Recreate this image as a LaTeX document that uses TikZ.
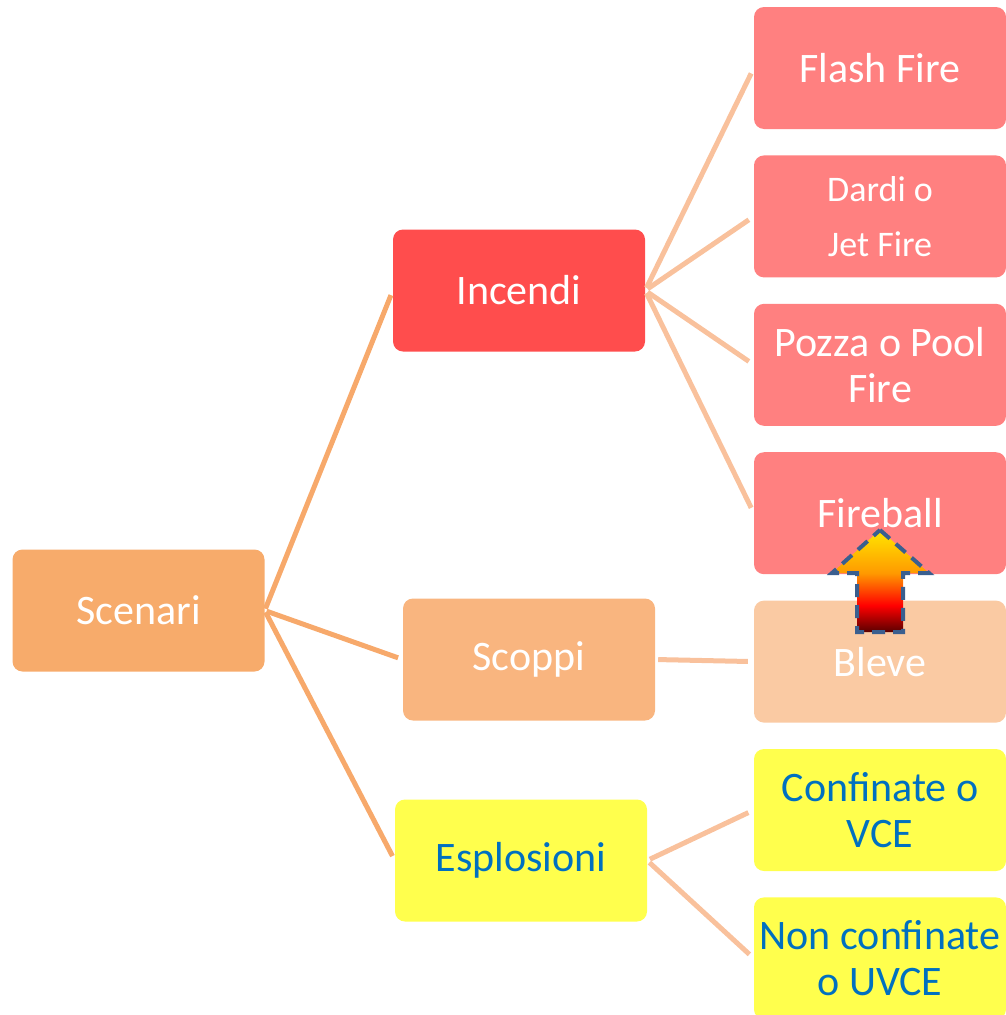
\documentclass[tikz,border=0pt]{standalone}
\usepackage{fontspec}
\setmainfont{Carlito}
\usetikzlibrary{positioning, calc}
\definecolor{root}{HTML}{F7AB6B}
\definecolor{fire}{HTML}{FF4D4D}
\definecolor{blast}{HTML}{F9B57F}
\definecolor{explosion}{HTML}{FFFF4D}
\definecolor{fire_leaf}{HTML}{FF8080}
\definecolor{blast_leaf}{HTML}{FACAA3}
\definecolor{root_link}{HTML}{F7A96B}
\definecolor{leaf_link}{HTML}{F9C19C}
\definecolor{bluetext}{HTML}{0070C0}
\definecolor{dashblue}{HTML}{3A5F8F}
\definecolor{arrowdark}{HTML}{5A0000}
\definecolor{arroworange}{HTML}{FF9A00}
\definecolor{arrowyellow}{HTML}{FFE600}
\pgfdeclareverticalshading{fireup}{100bp}{color(0bp)=(arrowdark); color(25bp)=(arrowdark); color(38bp)=(red); color(54bp)=(arroworange); color(75bp)=(arrowyellow); color(100bp)=(arrowyellow)}

\begin{document}
\begin{tikzpicture}[
    x=1pt, y=-1pt,
    font=\fontsize{42}{46}\selectfont,
    node distance=26pt,
    block/.style={
        rounded corners=10pt,
        align=center,
        minimum width=252pt,
        minimum height=122pt,
        inner sep=4pt,
        text=white
    },
    root/.style={block, fill=root},
    fire/.style={block, fill=fire},
    blast/.style={block, fill=blast},
    explosion/.style={block, fill=explosion, text=bluetext},
    fire_leaf/.style={block, fill=fire_leaf},
    blast_leaf/.style={block, fill=blast_leaf},
    explosion_leaf/.style={block, fill=explosion, text=bluetext},
    link/.style={line width=5pt, shorten <=2pt, shorten >=5pt},
    root_link/.style={link, draw=root_link},
    leaf_link/.style={link, draw=leaf_link, shorten <=3pt, shorten >=6pt}
]
\useasboundingbox (0,0) rectangle (1006,1015);

% Root and branches
\node[root] (Sc) at (138.5,610.5) {Scenari};
\node[fire] (Inc) at (519,290.5) {Incendi};
\node[blast] (Sco) at (529,659.5) {Scoppi};
\node[explosion] (Esp) at (521,860.5) {Esplosioni};

% Leaves
\node[fire_leaf] (FF) at (880,68) {Flash Fire};
\node[fire_leaf, below=of FF, font=\fontsize{36}{55}\selectfont] (JF) {Dardi o\\Jet Fire};
\node[fire_leaf, below=of JF] (PF) {Pozza o Pool\\Fire};
\node[fire_leaf, below=of PF] (FB) {Fireball};
\node[blast_leaf, below=of FB] (Blv) {Bleve};
\node[explosion_leaf, below=of Blv] (VCE) {Confinate o\\VCE};
\node[explosion_leaf, below=of VCE] (UVCE) {Non confinate\\o UVCE};

% Edges
\draw[root_link] (Sc.east) -- (Inc.west);
\draw[root_link] (Sc.east) -- (Sco.west);
\draw[root_link] (Sc.east) -- (Esp.west);

\draw[leaf_link] (Inc.east) -- (FF.west);
\draw[leaf_link] (Inc.east) -- (JF.west);
\draw[leaf_link] (Inc.east) -- (PF.west);
\draw[leaf_link] (Inc.east) -- (FB.west);
\draw[leaf_link] (Sco.east) -- (Blv.west);
\draw[leaf_link] (Esp.east) -- (VCE.west);
\draw[leaf_link] (Esp.east) -- (UVCE.west);

% Up arrow from Bleve to Fireball
\draw[shading=fireup, draw=dashblue, line width=4pt, dash pattern=on 13pt off 8pt, line join=miter]
    (880,530) -- (929,573) -- (903,573) -- (903,632) -- (857,632) -- (857,573) -- (832,573) -- cycle;

\end{tikzpicture}
\end{document}
